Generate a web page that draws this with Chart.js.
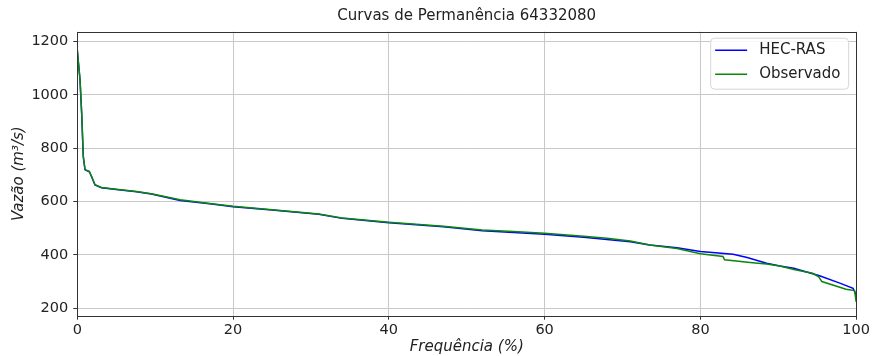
<!DOCTYPE html>
<html>
<head>
<meta charset="utf-8">
<script src="https://cdn.jsdelivr.net/npm/chart.js@4"></script>
<style>
  html, body { margin: 0; padding: 0; background: #fff; }
  #wrap { width: 872px; height: 356px; }
</style>
</head>
<body>
<div id="wrap"><canvas id="curvaChart"></canvas></div>
<script>
// curvas de permanência - frequência (%) x vazão (m³/s)
const freqHec = [0, 0.35, 0.56, 0.77, 0.99, 1.54, 1.84, 2.27, 3.1, 5, 7.6, 9.5, 13.2, 17, 20, 25, 31, 34, 40, 47, 52, 56, 60, 65, 68, 71, 73.5, 77, 80, 84.2, 86, 88.5, 90.2, 92, 95.3, 97.9, 99.6, 100];
const vazaoHec = [1165, 1056, 931, 768, 719, 712, 693, 662, 652, 645, 637, 628, 604, 592, 581, 568, 552, 537, 521, 506, 491, 484, 477, 466, 458, 449, 437, 427, 413, 402, 390, 369, 358, 350, 322, 294, 275, 250];

const freqObs = [0, 0.35, 0.56, 0.77, 0.99, 1.54, 1.84, 2.27, 3.1, 5, 7.6, 9.5, 13.2, 17, 20, 25, 31, 34, 40, 47, 52, 56, 60, 65, 68, 71, 73.5, 77, 80, 82.9, 83.1, 86.7, 88.5, 90.2, 92, 94.4, 95.2, 95.6, 98.7, 99.8, 100];
const vazaoObs = [1170, 1058, 933, 770, 720, 713, 694, 663, 653, 646, 638, 629, 607, 593, 582, 569, 553, 538, 522, 507, 493, 488, 481, 470, 462, 452, 437, 424, 404, 394, 382, 371, 366, 358, 345, 331, 318, 300, 271, 266, 224];

const xTicks = [0, 20, 40, 60, 80, 100];
const yTicks = [200, 400, 600, 800, 1000, 1200];

const FONT = "'DejaVu Sans', sans-serif";

const toPoints = (xs, ys) => xs.map((x, i) => ({ x: x, y: ys[i] }));

// title, frame and legend are drawn by hand, like matplotlib does
const mplExtras = {
  id: 'mplExtras',
  afterDatasetsDraw(chart) {
    const { ctx, chartArea: a } = chart;
    ctx.save();
    ctx.strokeStyle = '#333';
    ctx.lineWidth = 1;
    ctx.strokeRect(Math.round(a.left) + 0.5, Math.round(a.top) + 0.5,
      Math.round(a.right - a.left), Math.round(a.bottom - a.top));
    ctx.restore();
  },
  afterDraw(chart) {
    const { ctx, chartArea: a } = chart;
    ctx.save();
    // title
    ctx.fillStyle = '#222';
    ctx.font = '15px ' + FONT;
    ctx.textAlign = 'center';
    ctx.textBaseline = 'middle';
    ctx.fillText('Curvas de Permanência 64332080', (a.left + a.right) / 2, 16);

    // legend box
    const bw = 138, bh = 51;
    const bx = a.right - 8 - bw, by = a.top + 6;
    ctx.beginPath();
    ctx.roundRect(bx + 0.5, by + 0.5, bw, bh, 4);
    ctx.fillStyle = 'rgba(255,255,255,0.85)';
    ctx.fill();
    ctx.strokeStyle = '#d6d6d6';
    ctx.lineWidth = 1;
    ctx.stroke();

    chart.data.datasets.forEach((ds, i) => {
      const y = by + 12.5 + i * 24;
      ctx.beginPath();
      ctx.moveTo(bx + 5, y);
      ctx.lineTo(bx + 37, y);
      ctx.strokeStyle = ds.borderColor;
      ctx.lineWidth = 1.5;
      ctx.stroke();
      ctx.fillStyle = '#222';
      ctx.textAlign = 'left';
      ctx.fillText(ds.label, bx + 49, y);
    });
    ctx.restore();
  }
};

new Chart(document.getElementById('curvaChart'), {
  type: 'line',
  data: {
    datasets: [{
      label: 'HEC-RAS',
      data: toPoints(freqHec, vazaoHec),
      borderColor: '#0000ff',
      borderWidth: 1.5,
      pointRadius: 0,
      tension: 0,
      order: 2
    }, {
      label: 'Observado',
      data: toPoints(freqObs, vazaoObs),
      borderColor: '#0a870a',
      borderWidth: 1.5,
      pointRadius: 0,
      tension: 0,
      order: 1
    }]
  },
  options: {
    responsive: true,
    maintainAspectRatio: false,
    animation: false,
    layout: { padding: { left: 0, right: 15.3, top: 31.7, bottom: 0 } },
    plugins: {
      legend: { display: false },
      title: { display: false },
      tooltip: { enabled: false }
    },
    scales: {
      x: {
        type: 'linear',
        min: 0,
        max: 100,
        afterBuildTicks: s => { s.ticks = xTicks.map(v => ({ value: v })); },
        afterFit: s => { s.height = 40.3; },
        border: { display: false },
        grid: { color: '#c8c8c8', lineWidth: 1, tickLength: 4, tickColor: '#333' },
        ticks: { color: '#222', font: { family: FONT, size: 14.5 }, padding: 2, maxRotation: 0, callback: v => String(v) },
        title: {
          display: true,
          text: 'Frequência (%)',
          color: '#222',
          font: { family: FONT, size: 15, style: 'italic' },
          padding: { top: 0, bottom: 0 }
        }
      },
      y: {
        min: 172,
        max: 1237,
        afterBuildTicks: s => { s.ticks = yTicks.map(v => ({ value: v })); },
        afterFit: s => { s.width = 77.3; },
        border: { display: false },
        grid: { color: '#c8c8c8', lineWidth: 1, tickLength: 4, tickColor: '#333' },
        ticks: { color: '#222', font: { family: FONT, size: 14.5 }, padding: 5, callback: v => String(v) },
        title: {
          display: true,
          text: 'Vazão (m³/s)',
          color: '#222',
          font: { family: FONT, size: 15, style: 'italic' },
          padding: { top: 10, bottom: 0 }
        }
      }
    }
  },
  plugins: [mplExtras]
});
</script>
</body>
</html>
